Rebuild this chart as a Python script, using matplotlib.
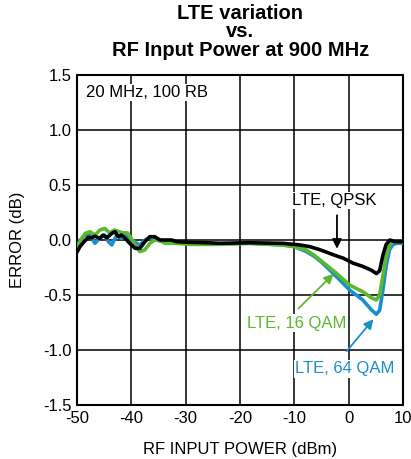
import matplotlib
matplotlib.use("Agg")
import matplotlib.pyplot as plt

plt.rcParams['font.family'] = ['Liberation Sans', 'DejaVu Sans']

title = "LTE variation\nvs.\nRF Input Power at 900 MHz"
x_label = "RF INPUT POWER (dBm)"
y_label = "ERROR (dB)"
x_ticks = [-50, -40, -30, -20, -10, 0, 10]
y_ticks = [-1.5, -1.0, -0.5, 0.0, 0.5, 1.0, 1.5]

qpsk_x = [-50, -49.45, -48.5, -47.9, -47.3, -46.7, -45.8, -45.2, -44.5, -43.6, -43.0, -42.4,
          -41.8, -41.2, -40.3, -39.3, -38.4, -37.5, -36.6, -35.7, -34.7, -33.8, -32.6, -31.7,
          -29.8, -26, -23.7, -18.2, -12.1, -9, -7.2, -5.5, -4.1, -2.5, -1.0, 0.8, 2.6, 4.2,
          5.1, 5.7, 6.3, 6.9, 7.6, 8.5, 10]
qpsk_y = [-0.11, -0.06, -0.005, 0.025, 0.02, 0.035, 0.015, 0.045, 0.02, 0.06, 0.075, 0.03,
          0.045, 0.02, -0.03, -0.075, -0.075, -0.015, 0.03, 0.03, 0.0, 0.0, 0.0, -0.015,
          -0.02, -0.025, -0.03, -0.025, -0.03, -0.045, -0.06, -0.085, -0.11, -0.14, -0.165,
          -0.21, -0.24, -0.275, -0.305, -0.28, -0.14, -0.04, 0.0, -0.015, -0.015]

qam16_x = [-50, -49.45, -48.5, -47.6, -46.7, -45.8, -44.9, -44.0, -43.1, -42.5, -41.6, -40.7,
           -39.6, -39.0, -38.4, -37.5, -36.6, -35.7, -34.8, -33.8, -32, -29, -25, -18.2,
           -12.1, -10, -7.8, -6.3, -4.8, -2.3, 0.2, 2.6, 4.2, 5.1, 5.7, 6.3, 6.9, 7.5, 8.1, 10]
qam16_y = [-0.08, -0.015, 0.06, 0.075, 0.045, 0.09, 0.105, 0.065, 0.09, 0.08, 0.065, 0.065,
           -0.015, -0.075, -0.105, -0.09, -0.03, 0.0, 0.0, -0.03, -0.03, -0.04, -0.04, -0.03,
           -0.045, -0.06, -0.09, -0.14, -0.2, -0.30, -0.41, -0.47, -0.525, -0.545, -0.5,
           -0.33, -0.15, -0.045, -0.015, -0.015]

qam64_x = [-50, -49.4, -48.5, -47.6, -46.7, -45.8, -44.9, -44.2, -43.6, -42.7, -41.8, -40.9,
           -40.0, -39.0, -38.4, -37.5, -36.6, -35.4, -33.8, -30, -25, -18.2, -12.1, -10,
           -7.8, -6.3, -4.8, -2.3, 0.2, 2.6, 4.2, 5.1, 5.7, 6.3, 6.9, 7.5, 8.1, 8.75, 10]
qam64_y = [-0.05, 0.0, 0.045, 0.045, -0.03, 0.02, 0.045, -0.015, -0.045, 0.045, 0.015, 0.045,
           0.0, -0.03, -0.045, 0.0, 0.02, 0.0, -0.02, -0.03, -0.035, -0.03, -0.045, -0.06,
           -0.105, -0.15, -0.21, -0.33, -0.455, -0.545, -0.635, -0.675, -0.64, -0.455, -0.24,
           -0.09, -0.045, -0.03, -0.03]

GREEN = '#5cb82e'
BLUE = '#1a8fd0'
FS = 12

fig = plt.figure(figsize=(4.11, 4.59), dpi=100)
ax = fig.add_axes([0.1873, 0.1176, 0.7932, 0.719])

ax.plot(qam64_x, qam64_y, color=BLUE, lw=2.6, zorder=3)
ax.plot(qam16_x, qam16_y, color=GREEN, lw=2.6, zorder=4)
ax.plot(qpsk_x, qpsk_y, color='black', lw=2.6, zorder=5)

ax.set_xlim(-50, 10)
ax.set_ylim(-1.5, 1.5)
ax.set_xticks(x_ticks)
ax.set_yticks(y_ticks)
ax.set_xticklabels([str(t) for t in x_ticks])
ax.set_yticklabels([f"{t:.1f}" for t in y_ticks])
ax.tick_params(length=0, labelsize=FS, pad=4)
ax.grid(True, color='black', lw=1.1)
for s in ax.spines.values():
    s.set_linewidth(1.5)

ax.set_xlabel(x_label, fontsize=FS, labelpad=12)
ax.set_ylabel(y_label, fontsize=FS, labelpad=13)

fig.text(0.585, 0.992, title, ha='center', va='top', fontsize=14.5, fontweight='bold',
         linespacing=0.98)

ax.text(-48.4, 1.41, "20 MHz, 100 RB", fontsize=FS, ha='left', va='top',
        bbox=dict(facecolor='white', edgecolor='none', pad=1))

ax.text(-2.6, 0.36, "LTE, QPSK", fontsize=FS, ha='center', va='center', color='black',
        bbox=dict(facecolor='white', edgecolor='none', pad=1), zorder=6)
ax.annotate("", xy=(-2.15, -0.105), xytext=(-2.15, 0.25),
            arrowprops=dict(arrowstyle='-|>', color='black', lw=1.3, mutation_scale=14), zorder=6)

ax.text(-9.5, -0.755, "LTE, 16 QAM", fontsize=FS, ha='center', va='center', color=GREEN,
        bbox=dict(facecolor='white', edgecolor='none', pad=1), zorder=6)
ax.annotate("", xy=(-2.4, -0.29), xytext=(-9.6, -0.64),
            arrowprops=dict(arrowstyle='-|>', color=GREEN, lw=1.3, mutation_scale=14), zorder=6)

ax.text(-0.74, -1.17, "LTE, 64 QAM", fontsize=FS, ha='center', va='center', color=BLUE,
        bbox=dict(facecolor='white', edgecolor='none', pad=1), zorder=6)
ax.annotate("", xy=(4.9, -0.70), xytext=(-0.7, -1.03),
            arrowprops=dict(arrowstyle='-|>', color=BLUE, lw=1.3, mutation_scale=14), zorder=6)

fig.savefig("out.png", dpi=100)
